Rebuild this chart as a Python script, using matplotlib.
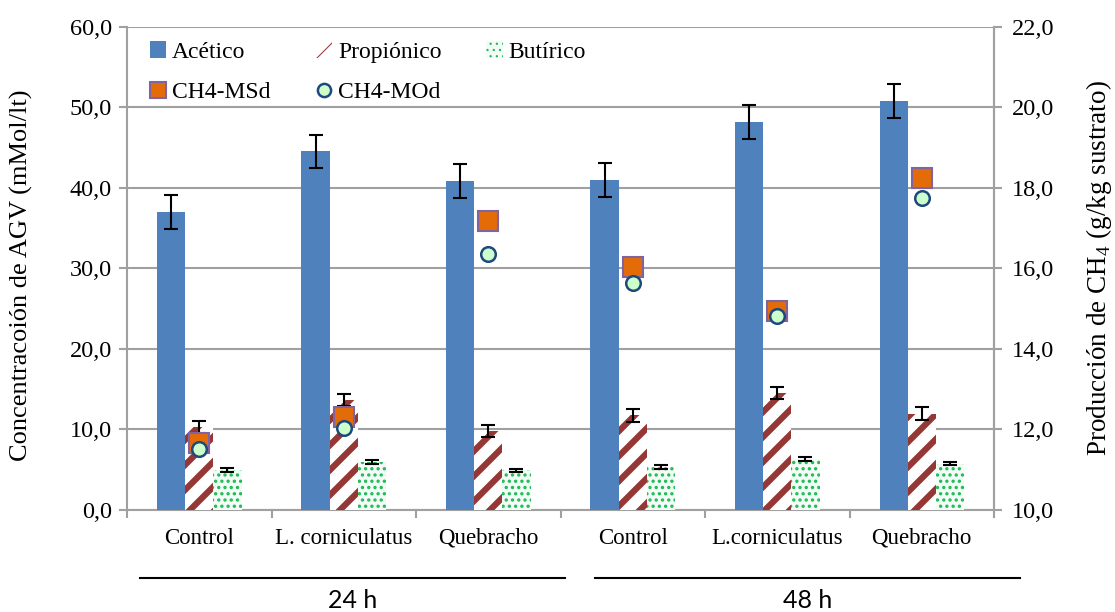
import matplotlib
matplotlib.use("Agg")
import matplotlib.pyplot as plt
import numpy as np
from matplotlib.lines import Line2D
from matplotlib.patches import Patch

# data
tratamientos = ["Control", "L. corniculatus", "Quebracho", "Control", "L.corniculatus", "Quebracho"]
tiempos = ["24 h", "48 h"]

acetico = [37.0, 44.5, 40.8, 41.0, 48.2, 50.8]
acetico_err = [2.1, 2.1, 2.1, 2.1, 2.1, 2.1]
propionico = [10.3, 13.6, 9.8, 11.7, 14.5, 11.9]
propionico_err = [0.75, 0.75, 0.75, 0.8, 0.75, 0.8]
butirico = [4.9, 5.9, 4.9, 5.3, 6.3, 5.7]
butirico_err = [0.25, 0.25, 0.2, 0.25, 0.2, 0.2]

ch4_msd = [11.66, 12.31, 17.17, 16.04, 14.94, 18.23]
ch4_mod = [11.50, 12.02, 16.36, 15.62, 14.82, 17.75]

# render at a lower dpi so the hatch stripes come out a bit denser;
# K converts sizes chosen for 100 dpi
DPI = 75
K = 100 / DPI

plt.rcParams['font.family'] = ['Liberation Serif', 'DejaVu Serif']
plt.rcParams['mathtext.fontset'] = 'custom'
plt.rcParams['mathtext.rm'] = 'Liberation Serif'

azul = '#4F81BD'
rojo = '#953735'
verde = '#1DB954'
gris = '#A0A0A0'
HATCH_PR = 4.5 * K
HATCH_BU = 1.5 * K


def hatch_lw(patches, lw):
    # per-artist hatch linewidth (matplotlib >= 3.10)
    for p in patches:
        if hasattr(p, 'set_hatch_linewidth'):
            p.set_hatch_linewidth(lw)


fig = plt.figure(figsize=(1115 / DPI, 612 / DPI), dpi=DPI)
ax = fig.add_axes([0.1139, 0.1672, 0.7776, 0.7892])

x = np.arange(len(tratamientos))
w = 0.195
err_kw = dict(ecolor='black', elinewidth=1.5 * K, capsize=5 * K, capthick=1.5 * K)

ax.bar(x - w, acetico, w, color=azul, yerr=acetico_err, error_kw=err_kw, zorder=3)
with plt.rc_context({'hatch.linewidth': HATCH_PR}):
    b_pr = ax.bar(x, propionico, w, color='white', edgecolor=rojo, linewidth=0, hatch='/',
                  yerr=propionico_err, error_kw=err_kw, zorder=3)
hatch_lw(b_pr, HATCH_PR)
with plt.rc_context({'hatch.linewidth': HATCH_BU}):
    b_bu = ax.bar(x + w, butirico, w, color='#F2FBF5', edgecolor=verde, linewidth=0, hatch='..',
                  yerr=butirico_err, error_kw=err_kw, zorder=3)
hatch_lw(b_bu, HATCH_BU)

ax.set_ylim(0, 60)
ax.set_xlim(-0.5, len(tratamientos) - 0.5)
ax.set_yticks(np.arange(0, 61, 10))
ax.set_yticklabels([f"{v:.1f}".replace('.', ',') for v in np.arange(0, 61, 10)], fontsize=17.5 * K)
ax.grid(axis='y', color=gris, linewidth=1.5 * K, zorder=0)
ax.set_axisbelow(True)

ax.set_xticks(x)
ax.set_xticklabels(tratamientos, fontsize=16.5 * K)
ax.set_xticks(np.arange(-0.5, len(tratamientos)), minor=True)
ax.tick_params(axis='x', which='major', length=0, pad=13 * K)
ax.tick_params(axis='x', which='minor', length=6 * K, color=gris, width=1.5 * K)
ax.tick_params(axis='y', length=6 * K, color=gris, width=1.5 * K, direction='out', pad=5 * K)

ax.spines['top'].set_visible(False)
for s in ['left', 'bottom', 'right']:
    ax.spines[s].set_color(gris)
    ax.spines[s].set_linewidth(1.5 * K)

ax.set_ylabel("Concentracoión de AGV (mMol/lt)", fontsize=19 * K)
ax.yaxis.set_label_coords(-0.108, 0.486)

ax2 = ax.twinx()
ax2.set_ylim(10, 22)
ax2.set_yticks(np.arange(10, 22.1, 2))
ax2.set_yticklabels([f"{v:.1f}".replace('.', ',') for v in np.arange(10, 22.1, 2)], fontsize=17.5 * K)
ax2.tick_params(axis='y', length=6 * K, color=gris, width=1.5 * K, direction='out', pad=7 * K)
for s in ['top', 'left', 'bottom']:
    ax2.spines[s].set_visible(False)
ax2.spines['right'].set_color(gris)
ax2.spines['right'].set_linewidth(1.5 * K)

ax2.plot(x, ch4_msd, linestyle='none', marker='s', markersize=14 * K,
         markerfacecolor='#E36C09', markeredgecolor='#8064A2', markeredgewidth=1.5 * K, zorder=4)
ax2.plot(x, ch4_mod, linestyle='none', marker='o', markersize=10.5 * K,
         markerfacecolor='#CCFFCC', markeredgecolor='#1F497D', markeredgewidth=1.8 * K, zorder=5)
ax2.set_ylabel("Producción de CH$_4$ (g/kg sustrato)", fontsize=19.5 * K)
ax2.yaxis.set_label_coords(1.104, 0.5)

# legend (order arranged so columns read row by row)
h_ac = Patch(facecolor=azul)
with plt.rc_context({'hatch.linewidth': HATCH_PR}):
    h_pr = Patch(facecolor='white', edgecolor=rojo, hatch='/', linewidth=0)
with plt.rc_context({'hatch.linewidth': HATCH_BU}):
    h_bu = Patch(facecolor='#F2FBF5', edgecolor=verde, hatch='..', linewidth=0)
hatch_lw([h_pr], HATCH_PR)
hatch_lw([h_bu], HATCH_BU)
h_ms = Line2D([], [], linestyle='none', marker='s', markersize=12 * K,
              markerfacecolor='#E36C09', markeredgecolor='#8064A2', markeredgewidth=1.5 * K)
h_mo = Line2D([], [], linestyle='none', marker='o', markersize=9.5 * K,
              markerfacecolor='#CCFFCC', markeredgecolor='#1F497D', markeredgewidth=1.8 * K)
leg = ax2.legend([h_ac, h_ms, h_pr, h_mo, h_bu],
                 ["Acético", "CH4-MSd", "Propiónico", "CH4-MOd", "Butírico"],
                 ncol=3, loc='upper left', bbox_to_anchor=(0.018, 0.984),
                 frameon=False, fontsize=17 * K, handlelength=0.7, handleheight=0.7,
                 handletextpad=0.25, columnspacing=1.9, labelspacing=0.8,
                 borderpad=0.3, borderaxespad=0)

# bottom time groups
for (x0, x1), lab in zip([(0.1256, 0.5067), (0.5336, 0.9148)], tiempos):
    fig.add_artist(Line2D([x0, x1], [0.0556, 0.0556], color='black', linewidth=1.5 * K,
                          transform=fig.transFigure))
    fig.text((x0 + x1) / 2, 0.018, lab, ha='center', va='center', fontsize=18 * K,
             family='Lato')

fig.savefig('out.png', dpi=DPI)
